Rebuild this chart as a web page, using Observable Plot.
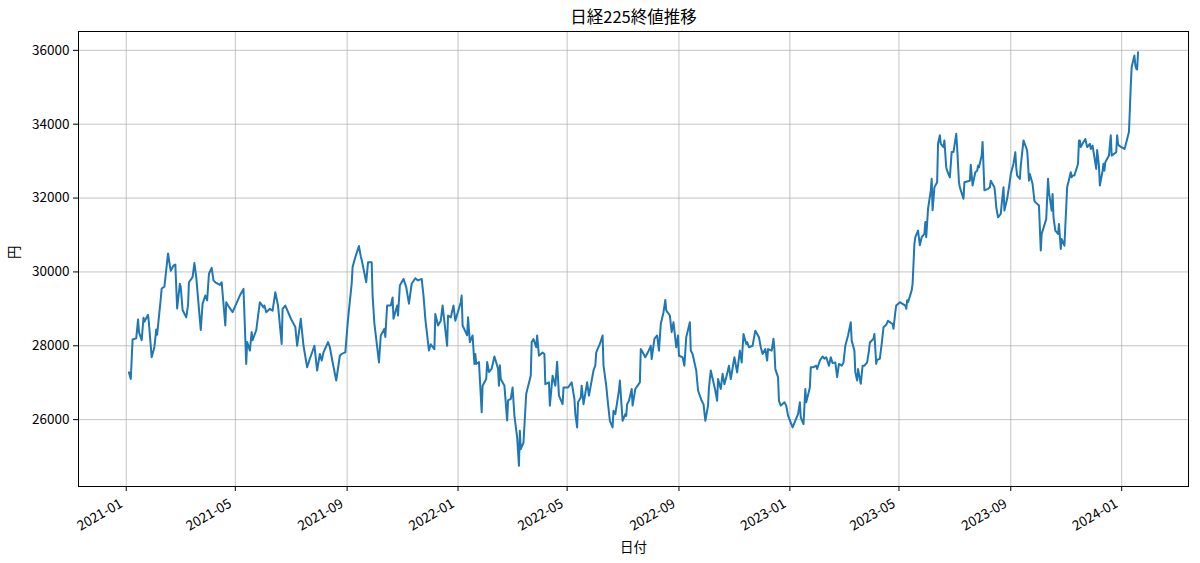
<!DOCTYPE html>
<html><head><meta charset="utf-8">
<script src="https://cdn.jsdelivr.net/npm/d3@7"></script>
<script src="https://cdn.jsdelivr.net/npm/@observablehq/plot@0.6"></script>
<style>body{margin:0;background:#fff} svg{display:block}</style>
</head><body><div id="chart"></div>
<script>
const title = "日経225終値推移";
const xLabel = "日付";
const yLabel = "円";
const yTicks = [26000, 28000, 30000, 32000, 34000, 36000];
const xTicks = ["2021-01-01","2021-05-01","2021-09-01","2022-01-01","2022-05-01","2022-09-01","2023-01-01","2023-05-01","2023-09-01","2024-01-01"];

const days2021 = [
"01-04","01-06","01-08","01-12","01-14","01-15","01-18","01-20","01-21","01-25","01-26","01-29",
"02-01","02-03","02-04","02-08","02-09","02-12","02-16","02-18","02-19","02-22","02-24","02-26",
"03-01","03-02","03-04","03-08","03-10","03-11","03-15","03-17","03-19","03-24","03-26","03-29","03-31",
"04-02","04-05","04-07","04-09","04-14","04-16","04-20","04-21","04-23","04-28",
"05-06","05-10","05-13","05-14","05-17","05-19","05-20","05-24","05-28",
"06-01","06-02","06-04","06-08","06-11","06-14","06-17","06-21","06-22","06-25","06-30",
"07-02","07-06","07-08","07-12","07-15","07-19","07-22","07-27","07-30",
"08-02","08-04","08-06","08-11","08-13","08-16","08-20","08-24","08-26","08-30",
"09-02","09-06","09-07","09-10","09-14","09-16","09-17","09-22","09-24","09-28","09-29",
"10-01","10-06","10-08","10-12","10-13","10-15","10-19","10-21","10-22","10-26","10-27","10-29",
"11-02","11-05","11-08","11-11","11-15","11-18","11-22","11-24","11-26","11-30",
"12-02","12-06","12-07","12-10","12-13","12-15","12-20","12-21","12-24","12-27","12-29"];
const close2021 = [
27280,27100,28170,28200,28710,28370,28150,28760,28650,28840,28600,27690,
27970,28440,28300,29280,29550,29600,30500,30170,30030,30170,30200,29010,
29680,29590,28970,28770,29100,29720,29860,30240,29860,28430,29140,29360,29230,
29950,30110,29770,29720,29650,29720,28550,29180,29090,28910,
29360,29540,27510,28100,27870,28370,28150,28420,29180,
29040,29090,28910,29000,28950,29450,29090,28050,29000,29090,28800,
28690,28510,28000,28730,28000,27420,27650,28000,27330,
27780,27600,27820,28100,27960,27560,27060,27730,27780,27820,
28730,29680,30130,30400,30700,30420,30330,29720,30260,30260,29360,
28600,27550,28280,28460,28240,29090,29090,29310,28730,29090,28820,29630,
29810,29590,29140,29680,29830,29770,29810,29360,28730,27870,
28040,27910,28860,28550,28680,29090,28000,28820,28770,29090,28680];

const days2022 = [
"01-04","01-05","01-06","01-11","01-12","01-14","01-17","01-19","01-20","01-21","01-24","01-27","01-28",
"02-01","02-02","02-04","02-07","02-10","02-14","02-15","02-16","02-17","02-21","02-24","02-25","02-28",
"03-02","03-04","03-07","03-09","03-10","03-11","03-14","03-17","03-22","03-23","03-25","03-28","03-29","03-31",
"04-04","04-06","04-07","04-11","04-12","04-15","04-18","04-20","04-22","04-26","04-27",
"05-02","05-06","05-09","05-10","05-12","05-13","05-16","05-17","05-19","05-23","05-25","05-30",
"06-01","06-02","06-06","06-09","06-10","06-13","06-15","06-17","06-20","06-21","06-23","06-27","06-28",
"07-01","07-04","07-05","07-06","07-08","07-11","07-12","07-15","07-20","07-21","07-22","07-26","07-29",
"08-01","08-02","08-05","08-08","08-10","08-12","08-15","08-17","08-18","08-22","08-24","08-26","08-29","08-31",
"09-01","09-05","09-07","09-09","09-13","09-14","09-16","09-20","09-22","09-26","09-28","09-30",
"10-03","10-04","10-06","10-11","10-13","10-14","10-17","10-19","10-21","10-24","10-26","10-28",
"11-01","11-04","11-07","11-09","11-11","11-14","11-15","11-17","11-21","11-24","11-28","11-30",
"12-02","12-05","12-07","12-08","12-12","12-14","12-15","12-16","12-19","12-20","12-22","12-26","12-28","12-30"];
const close2022 = [
29180,29360,28550,28280,28770,28100,28280,27510,27780,27510,27560,26200,26920,
27100,27560,27290,27380,27710,27380,26920,27470,27100,26920,25980,26520,26560,
26870,26110,25520,24750,25700,25200,25380,26700,27190,28100,28180,27960,28280,27730,
27820,27780,26960,27010,26380,27190,26920,27570,26650,26420,26870,
26870,27010,26560,26150,25790,26470,26600,26920,26420,27010,26650,27330,
27470,27820,28050,28280,27470,26920,26420,25970,25790,26240,26150,26790,27060,
25970,26150,26100,26420,26510,26830,26380,26830,27010,27910,27870,27690,27830,
28000,27640,28190,28280,27870,28590,28910,29240,28960,28820,28370,28640,27960,28280,
27730,27690,27460,28230,28640,27870,27780,27330,26790,26510,26420,25970,
26380,26870,27330,26790,26510,27100,26830,27240,26960,27240,27460,27100,
27690,27280,27870,27550,28320,28050,28100,27960,28000,28410,28230,27960,
27780,27910,27600,27910,27870,28190,27910,27370,27150,26510,26380,26470,26380,26110];

const days2023 = [
"01-04","01-10","01-12","01-13","01-16","01-18","01-19","01-23","01-24","01-27","01-30","01-31",
"02-03","02-06","02-08","02-10","02-13","02-15","02-17","02-20","02-22","02-24","02-27",
"03-01","03-03","03-06","03-09","03-10","03-13","03-14","03-16","03-17","03-20","03-22","03-24","03-27","03-29","03-30",
"04-03","04-04","04-06","04-07","04-10","04-12","04-14","04-17","04-19","04-21","04-24","04-25","04-27","04-28",
"05-02","05-08","05-09","05-10","05-11","05-15","05-16","05-17","05-18","05-19","05-22","05-24","05-26","05-29","05-30","05-31",
"06-02","06-05","06-06","06-07","06-09","06-12","06-13","06-15","06-16","06-19","06-20","06-22","06-23","06-26","06-28","06-30",
"07-03","07-04","07-06","07-07","07-11","07-12","07-18","07-19","07-21","07-24","07-26","07-27","07-28","07-31",
"08-01","08-03","08-07","08-09","08-10","08-14","08-15","08-16","08-18","08-21","08-22","08-24","08-25","08-28","08-30",
"09-01","09-04","09-06","09-07","09-08","09-11","09-12","09-15","09-19","09-20","09-21","09-22","09-25","09-27","09-28",
"10-02","10-04","10-05","10-10","10-11","10-12","10-13","10-16","10-17","10-18","10-20","10-23","10-24","10-26","10-27","10-30",
"11-01","11-02","11-06","11-07","11-08","11-10","11-14","11-15","11-16","11-17","11-20","11-22","11-24","11-27","11-28","11-30",
"12-04","12-05","12-07","12-08","12-11","12-12","12-13","12-14","12-18","12-20","12-21","12-26","12-27","12-28","12-29"];
const close2023 = [
25790,26150,26470,26060,25880,26830,26470,26870,27420,27420,27460,27370,
27600,27710,27650,27690,27460,27690,27530,27550,27150,27510,27460,
27550,28000,28280,28640,28140,27870,27280,27060,27370,26970,27460,27460,27550,27870,28090,
28190,28320,27510,27620,27650,28050,28500,28570,28680,28640,28590,28460,28910,29090,
29180,29090,29000,29230,29180,29500,29680,30220,30760,30940,31120,30720,30940,31030,31350,30940,
31710,32200,32520,31670,32290,32430,33470,33700,33470,33380,33560,32830,32740,32560,33250,33250,
33740,33380,32430,32290,31980,32430,32470,32900,32340,32700,32740,32880,32830,33150,
33520,32210,32250,32290,32470,32290,32070,31750,31480,31570,31840,32290,31660,31980,32290,
32650,32930,33240,32830,32610,32520,32880,33560,33290,32930,32470,32650,32380,31930,31890,
31800,30580,31030,31430,31980,32520,32160,31660,32110,31480,31120,31030,31300,30620,30890,30710,
31750,32290,32700,32560,32610,32610,32930,33560,33560,33380,33520,33600,33380,33470,33330,33420,
32790,33300,32880,32340,32740,32930,32740,32970,33150,33700,33150,33240,33700,33470,33420];

const days2024 = ["01-04","01-05","01-09","01-10","01-11","01-12","01-15","01-16","01-17","01-18","01-19"];
const close2024 = [33330,33400,33790,34400,35050,35550,35860,35600,35500,35480,35950];

const parse = d3.utcParse("%Y-%m-%d");
const years = [[2021, days2021, close2021], [2022, days2022, close2022], [2023, days2023, close2023], [2024, days2024, close2024]];
const data = [];
for (const [yr, days, closes] of years) {
  const n = Math.min(days.length, closes.length);
  for (let i = 0; i < n; i++) data.push({date: parse(`${yr}-${days[i]}`), close: closes[i]});
}
const xTickDates = xTicks.map(parse);
const xe = d3.extent(data, d => d.date);
const xs = xe[1] - xe[0];
const xDomain = [new Date(+xe[0] - xs * 0.05), new Date(+xe[1] + xs * 0.05)];
const ye = d3.extent(data, d => d.close);
const ys = ye[1] - ye[0];
const yDomain = [ye[0] - ys * 0.05, ye[1] + ys * 0.05];

const font = "'Noto Sans CJK JP', 'Noto Sans', sans-serif";
const fmtMonth = d3.utcFormat("%Y-%m");
const gridStyle = {stroke: "#b0b0b0", strokeOpacity: 0.75, strokeWidth: 1};
const chart = Plot.plot({
  width: 1200, height: 563,
  marginLeft: 78, marginRight: 12, marginTop: 31, marginBottom: 77,
  style: {fontFamily: font, fontSize: "13.5px", color: "#000", background: "#fff"},
  x: {type: "utc", domain: xDomain},
  y: {domain: yDomain},
  marks: [
    Plot.gridX(xTickDates, gridStyle),
    Plot.gridY(yTicks, gridStyle),
    Plot.line(data, {x: "date", y: "close", stroke: "#1f77b4", strokeWidth: 2}),
    Plot.frame({stroke: "#000", strokeWidth: 1}),
    Plot.axisX(xTickDates, {tickFormat: () => "", tickSize: 5, label: null}),
    Plot.text(xTickDates, {x: d => d, text: d => fmtMonth(d), frameAnchor: "bottom", dx: -5, dy: 16, rotate: -30, textAnchor: "end", lineAnchor: "middle", fontSize: 13.5, fill: "#000"}),
    Plot.axisY(yTicks, {tickFormat: d => String(d), tickSize: 5, tickPadding: 4, label: null, fontSize: 13.5}),
    Plot.text([title], {frameAnchor: "top", lineAnchor: "middle", dy: -14, fontSize: 16.5, fill: "#000"}),
    Plot.text([xLabel], {frameAnchor: "bottom", lineAnchor: "middle", dy: 61, fontSize: 13.5, fill: "#000"}),
    Plot.text([yLabel], {frameAnchor: "left", lineAnchor: "middle", dx: -64, rotate: -90, fontSize: 13.5, fill: "#000"})
  ]
});
document.getElementById("chart").appendChild(chart);
</script>
</body></html>
